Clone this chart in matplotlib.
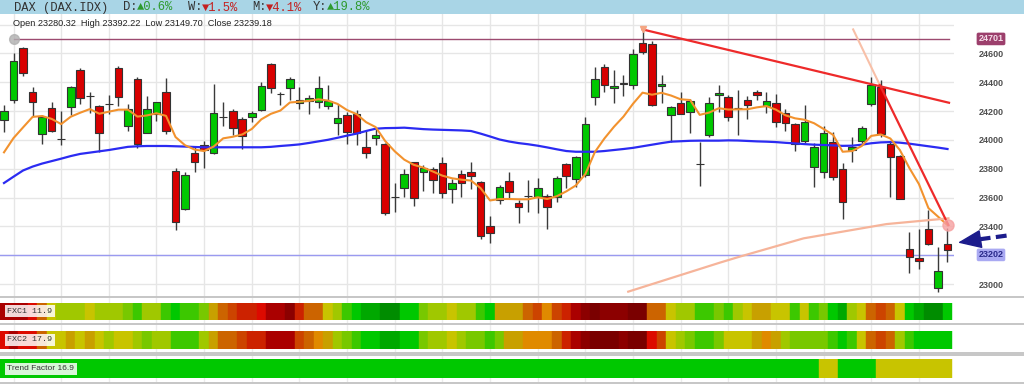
# -*- coding: utf-8 -*-
# DAX daily candles with moving averages, trend lines and FXC heat strips
import numpy as np
import matplotlib
matplotlib.use("Agg")
import matplotlib.pyplot as plt
from matplotlib.lines import Line2D

# ---- daily OHLC (oldest first) ----
opens = [24138, 24277, 24640, 24330, 24041, 24219, 24006, 24231, 24485, 24305,
         24235, 24249, 24501, 24097, 24421, 24051, 24178, 24335, 23786, 23520,
         23912, 23965, 23912, 24161, 24203, 24143, 24157, 24208, 24527, 24319,
         24358, 24254, 24272, 24261, 24235, 24115, 24173, 24178, 23949, 24011,
         23972, 23602, 23664, 23845, 23780, 23798, 23838, 23657, 23763, 23780,
         23710, 23402, 23583, 23718, 23564, 23611, 23606, 23613, 23606, 23831,
         23727, 23756, 24296, 24504, 24358, 24397, 24381, 24675, 24666, 24377,
         24173, 24258, 24192, 23833, 24034, 24312, 24296, 24219, 24277, 24335,
         24235, 24258, 24185, 24110, 23995, 23810, 23776, 23988, 23798, 23930,
         23995, 24249, 24370, 23972, 23888, 23241, 23178, 23382, 22970, 23280.32]
highs = [24242, 24605, 24648, 24365, 24170, 24265, 24203, 24374, 24497, 24335,
         24240, 24312, 24513, 24249, 24439, 24305, 24265, 24432, 23803, 23779,
         23949, 23995, 24388, 24265, 24212, 24157, 24203, 24405, 24536, 24335,
         24439, 24365, 24312, 24444, 24381, 24247, 24196, 24208, 24069, 24085,
         23981, 23703, 23796, 23849, 23826, 23810, 23884, 23727, 23791, 23849,
         23715, 23472, 23687, 23779, 23583, 23722, 23733, 23623, 23750, 23838,
         23888, 24161, 24504, 24527, 24485, 24450, 24628, 24767, 24689, 24450,
         24235, 24335, 24282, 23988, 24296, 24381, 24312, 24346, 24305, 24346,
         24335, 24319, 24212, 24115, 24242, 23977, 24097, 24057, 23838, 24018,
         24097, 24435, 24416, 23988, 23895, 23363, 23379, 23514, 23255, 23392.22]
lows = [24057, 24258, 24445, 24166, 23972, 24057, 23965, 24173, 24249, 24189,
        23918, 24180, 24235, 24064, 23942, 24045, 24133, 24039, 23375, 23514,
        23779, 23803, 23903, 24097, 24034, 23935, 24126, 24200, 24324, 24242,
        24277, 24212, 24180, 24219, 24212, 24034, 23972, 23965, 23873, 23965,
        23479, 23502, 23606, 23541, 23648, 23629, 23595, 23560, 23602, 23657,
        23310, 23282, 23555, 23595, 23421, 23502, 23495, 23382, 23571, 23664,
        23676, 23745, 24242, 24335, 24258, 24305, 24351, 24596, 24235, 24258,
        23988, 24178, 24046, 23680, 24023, 24196, 24133, 24034, 24143, 24277,
        24189, 24088, 24064, 23925, 23977, 23671, 23733, 23722, 23449, 23849,
        23977, 24235, 24023, 23606, 23590, 23078, 23102, 23270, 22947, 23149.70]
closes = [24203, 24548, 24462, 24261, 24161, 24064, 24006, 24370, 24289, 24305,
          24046, 24249, 24300, 24215, 23972, 24215, 24261, 24064, 23428, 23756,
          23847, 23930, 24189, 24161, 24086, 24029, 24185, 24377, 24358, 24319,
          24421, 24277, 24289, 24358, 24270, 24150, 24053, 24051, 23907, 24034,
          23491, 23602, 23763, 23595, 23803, 23722, 23634, 23699, 23699, 23750,
          23333, 23356, 23671, 23641, 23532, 23611, 23664, 23532, 23733, 23750,
          23879, 24110, 24421, 24381, 24374, 24386, 24594, 24613, 24242, 24388,
          24231, 24180, 24272, 23833, 24254, 24328, 24157, 24219, 24242, 24312,
          24272, 24126, 24120, 23972, 24126, 23949, 24046, 23741, 23571, 23949,
          24085, 24381, 24041, 23879, 23590, 23185, 23162, 23276, 23092, 23239.18]

# moving averages
ma_fast = [23914, 24013, 24087, 24160, 24166, 24146, 24110, 24161, 24189, 24214,
           24182, 24196, 24210, 24210, 24162, 24170, 24185, 24167, 24020, 23963,
           23933, 23923, 23954, 24011, 24022, 24038, 24076, 24143, 24181, 24204,
           24260, 24265, 24271, 24282, 24273, 24250, 24207, 24179, 24123, 24089,
           23992, 23921, 23863, 23827, 23808, 23781, 23752, 23734, 23724, 23718,
           23666, 23580, 23590, 23590, 23588, 23588, 23602, 23590, 23609, 23643,
           23684, 23763, 23916, 24010, 24091, 24162, 24251, 24328, 24314, 24327,
           24308, 24282, 24277, 24174, 24190, 24220, 24211, 24212, 24213, 24226,
           24235, 24210, 24171, 24150, 24140, 24116, 24076, 24035, 23918, 23923,
           23958, 24028, 24038, 24010, 23930, 23805, 23694, 23527, 23468, 23409]
ma_slow = [23701, 23745, 23788, 23815, 23836, 23853, 23870, 23888, 23903, 23912,
           23921, 23930, 23941, 23952, 23956, 23958, 23958, 23958, 23956, 23954,
           23951, 23949, 23949, 23949, 23949, 23949, 23949, 23949, 23952, 23958,
           23963, 23969, 23979, 23990, 24001, 24015, 24030, 24044, 24062, 24078,
           24082, 24083, 24085, 24080, 24075, 24072, 24070, 24068, 24066, 24062,
           24044, 24024, 24003, 23989, 23978, 23970, 23960, 23948, 23935, 23923,
           23918, 23918, 23918, 23923, 23930, 23937, 23945, 23956, 23967, 23978,
           23988, 23991, 23994, 23995, 23995, 23995, 23997, 23996, 23993, 23990,
           23988, 23985, 23980, 23976, 23971, 23967, 23965, 23962, 23959, 23960,
           23967, 23977, 23983, 23985, 23981, 23974, 23965, 23956, 23947, 23937]

# drawn objects (candle index, price)
down_trend_x, down_trend_y = [67, 99.16], [24767, 24258]
steep_trend_x, steep_trend_y = [91.9, 99.1], [24381, 23409]
steep_ext_x, steep_ext_y = [89.1, 91.9], [24767, 24381]
arc_x = [65.5, 75.1, 77.2, 83.9, 92.6, 99.1]
arc_y = [22947, 23148, 23190, 23317, 23416, 23456]
resist_level, resist_from, resist_to = 24701, 1, 99.16
last_level = 23202

# heat strips, level 0 (deep red) .. 15 (deep green)
fxc1 = [2, 2, 2, 3, 6, 9, 10, 10, 10, 9, 10, 10, 10, 11, 12, 10, 10, 12, 13, 12,
        12, 11, 8, 6, 5, 4, 4, 3, 2, 2, 1, 4, 6, 6, 9, 10, 12, 13, 14, 14,
        15, 15, 13, 13, 11, 10, 10, 9, 10, 10, 12, 13, 8, 8, 8, 6, 5, 7, 5, 4,
        2, 1, 0, 1, 1, 1, 0, 0, 6, 6, 9, 10, 10, 12, 12, 11, 12, 10, 9, 8,
        8, 9, 9, 12, 9, 12, 11, 13, 14, 10, 9, 6, 5, 6, 9, 13, 14, 15, 15, 13]
fxc2 = [3, 2, 3, 3, 6, 9, 9, 8, 9, 8, 9, 10, 9, 9, 10, 11, 10, 10, 12, 12,
        12, 10, 8, 6, 6, 5, 4, 4, 2, 2, 2, 5, 6, 7, 8, 10, 11, 12, 13, 13,
        14, 14, 13, 13, 11, 10, 10, 9, 10, 11, 11, 12, 11, 8, 8, 7, 7, 7, 6, 4,
        2, 1, 0, 0, 0, 1, 0, 0, 3, 5, 9, 10, 11, 12, 12, 11, 9, 9, 9, 8,
        7, 8, 10, 11, 11, 11, 11, 12, 13, 12, 9, 6, 5, 6, 10, 12, 13, 13, 13, 13]
trend = [13] * 86 + [9, 9] + [13] * 4 + [9] * 8

PALETTE = ['#7a0000', '#8c0000', '#aa0000', '#dd0a00', '#cc2200', '#cc4400',
           '#cc6400', '#e08a00', '#c8a000', '#c8c400', '#a0c800', '#78c800',
           '#3cc800', '#00c800', '#00a800', '#008c00']

RED, GREEN = '#d80000', '#00c800'
W, H = 1024.0, 384.0
PLOT_R = 953.5 / W
XLIM = (-0.42, 99.63)
SANS = ['Liberation Sans', 'DejaVu Sans']
MONO = ['Liberation Mono', 'DejaVu Sans Mono']


def fy(py):
    return 1 - py / H


fig = plt.figure(figsize=(10.24, 3.84), dpi=100)
fig.patch.set_facecolor('white')

# ---- header bar ----
fig.add_artist(plt.Rectangle((0, fy(14)), 1, 14 / H, transform=fig.transFigure,
                             facecolor='#a9d5e6', edgecolor='none'))
header = [("DAX (DAX.IDX)", 14, '#333333'), ("D:", 123, '#333333'),
          ("\u25b20.6%", 136.5, '#2e9a2e'), ("W:", 188, '#333333'),
          ("\u25bc1.5%", 201.5, '#c42020'), ("M:", 252, '#333333'),
          ("\u25bc4.1%", 265.5, '#c42020'), ("Y:", 313, '#333333'),
          ("\u25b219.8%", 327, '#2e9a2e')]
for txt, px, col in header:
    fig.text(px / W, fy(7.5), txt, family=MONO, fontsize=8.7, color=col,
             va='center', ha='left')
fig.text(13 / W, fy(23.5), "Open 23280.32  High 23392.22  Low 23149.70  Close 23239.18",
         family=SANS, fontsize=6.6, color='#222222', va='center')

# ---- main price panel ----
ax = fig.add_axes([0, fy(296.7), PLOT_R, (296.7 - 14) / H])
ax.set_xlim(*XLIM)
ax.set_ylim(22912, 24874)
idx = np.arange(len(closes))
o = np.array(opens)
c = np.array(closes)
colors = np.where(c >= o, GREEN, RED)

ax.vlines(idx, lows, highs, color='#3a3a3a', lw=1, zorder=3)
ax.bar(idx, c - o, bottom=o, width=0.8, color=colors, edgecolor='#333333',
       linewidth=0.8, zorder=4)
ax.plot(idx, ma_slow, color='#2b2bf2', lw=1.6, zorder=5)
ax.plot(idx, ma_fast, color='#f2922e', lw=1.5, zorder=5)

ax.plot([resist_from, resist_to], [resist_level] * 2, color='#9c4a70', lw=1, zorder=2)
ax.plot([resist_from], [resist_level], 'o', ms=7, color='#b0b0b0', alpha=0.8, zorder=2)
ax.axhline(last_level, color='#9a9af0', lw=1, zorder=2)

ax.plot(arc_x, arc_y, color='#f6b49a', lw=1.6, zorder=6)
ax.plot(steep_ext_x, steep_ext_y, color='#f8c0a8', lw=1.5, zorder=6)
ax.plot(down_trend_x, down_trend_y, color='#ee2a2a', lw=1.6, zorder=6)
ax.plot(steep_trend_x, steep_trend_y, color='#ee2a2a', lw=1.6, zorder=6)
ax.plot([down_trend_x[0]], [down_trend_y[0]], marker='v', ms=5, color='#f4a582', zorder=7)
ax.plot([steep_trend_x[1]], [steep_trend_y[1]], 'o', ms=8, color='#f6a0a0', alpha=0.8, zorder=7)

# grid, right price scale
ax.set_xticks(np.arange(1, 100, 5))
yt = np.arange(23000, 24801, 200)
ax.set_yticks(yt)
ax.set_yticklabels(['' if v in (23200, 24800) else str(v) for v in yt])
ax.grid(True, color='#e6e6e6', lw=1)
ax.set_axisbelow(True)
ax.yaxis.tick_right()
ax.tick_params(axis='x', length=0, labelbottom=False)
ax.tick_params(axis='y', length=0, pad=18.5, labelsize=6.5, labelcolor='#505050')
for lbl in ax.get_yticklabels():
    lbl.set_fontweight('bold')
    lbl.set_family(SANS)
for s in ax.spines.values():
    s.set_visible(False)

ytr = ax.get_yaxis_transform()
ax.text(991 / 953.5, resist_level, str(resist_level), transform=ytr, ha='center',
        va='center', fontsize=6.5, fontweight='bold', family=SANS, color='#f4dce8',
        bbox=dict(boxstyle='round,pad=0.2', fc='#9c3f6c', ec='none'), clip_on=False)
ax.text(991 / 953.5, last_level, str(last_level), transform=ytr, ha='center',
        va='center', fontsize=6.5, fontweight='bold', family=SANS, color='#2a2a8a',
        bbox=dict(boxstyle='round,pad=0.2', fc='#a9a9f2', ec='none'), clip_on=False)

# dashed pointer to the last price
arrow_tail, arrow_base, arrow_tip = (105.2, 23336), (102.2, 23309), (100.1, 23287)
ax.plot([arrow_tail[0], arrow_base[0]], [arrow_tail[1], arrow_base[1]], color='#1c1c8c',
        lw=3, ls=(0, (2.6, 1.3)), clip_on=False, zorder=8)
ax.annotate('', xy=arrow_tip, xytext=arrow_base, annotation_clip=False,
            arrowprops=dict(arrowstyle='-|>,head_length=1.0,head_width=0.4',
                            color='#1c1c8c', lw=1, shrinkA=0, shrinkB=0,
                            mutation_scale=15))

# ---- lower heat strips ----
bg = fig.add_axes([0, 0, PLOT_R, fy(296.7)])
bg.set_xlim(*XLIM)
for gx in np.arange(1, 100, 5):
    bg.axvline(gx, color='#ececec', lw=1)
bg.axis('off')


def heat_strip(top, bottom, levels, label, family, size):
    sax = fig.add_axes([0, fy(bottom), PLOT_R, (bottom - top) / H])
    cols = [PALETTE[l] for l in levels]
    sax.bar(idx, 1, width=1.0, color=cols, edgecolor=cols, linewidth=0.3)
    sax.set_xlim(*XLIM)
    sax.set_ylim(0, 1)
    sax.axis('off')
    sax.text(7.3 / 953.5, 0.5, label, transform=sax.transAxes, family=family,
             fontsize=size, color='#333333', va='center', ha='left',
             bbox=dict(boxstyle='square,pad=0.3', fc='white', ec='none', alpha=0.85))


heat_strip(302.7, 320, fxc1, "FXC1 11.9", MONO, 6)
heat_strip(330.7, 349, fxc2, "FXC2 17.9", MONO, 6)
heat_strip(359.3, 378.3, trend, "Trend Factor 16.9", SANS, 6)

for py in (296.7, 324.3, 352.7, 355.2, 382.7):
    fig.add_artist(Line2D([0, 1], [fy(py)] * 2, transform=fig.transFigure,
                          color='#c6c6c6', lw=1.4))

fig.savefig('out.png', dpi=100)
